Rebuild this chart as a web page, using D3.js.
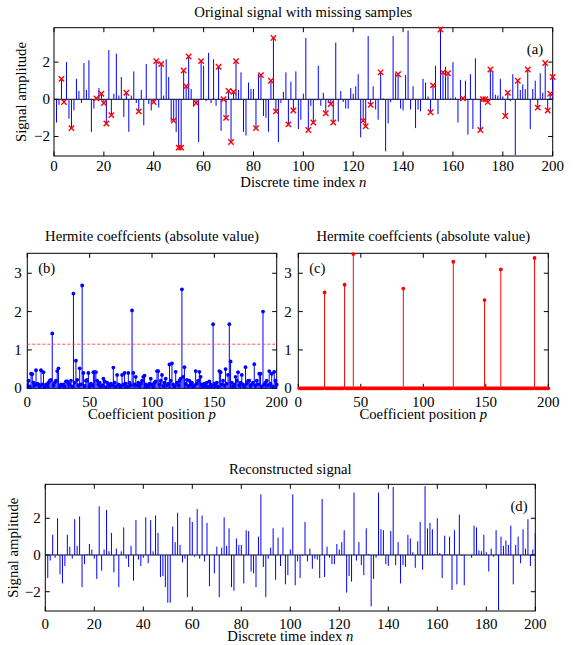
<!DOCTYPE html>
<html>
<head>
<meta charset="utf-8">
<script src="https://cdn.jsdelivr.net/npm/d3@7"></script>
<style>
  body { margin: 0; background: #fff; }
  text { font-family: "Liberation Serif", "Times New Roman", serif; fill: #000; }
</style>
</head>
<body>
<div id="main"></div>
<script>

// Signal samples, n = 1..200
const signal = [
  -1.25, -0.3, 1.1, -0.15, 2.0, -1.05, -1.55, -0.6, 1.1, 0.45,
  -0.2, 1.95, 0.5, 2.1, -1.75, -0.5, 0.05, 0.6, 0.3, -0.2,
  -1.3, 2.65, -0.85, 0.3, 2.45, 0.2, 1.2, -0.95, 0.35, -1.75,
  0.2, 1.5, -0.2, -0.65, 0.5, -1.4, 1.9, -0.25, -0.6, -0.15,
  2.05, -0.45, 1.9, 0.2, 2.15, 1.2, -1.2, -1.15, -1.75, -2.6,
  -2.6, 1.55, 0.7, 2.3, 0.55, -0.4, -0.2, -2.3, 2.05, 1.8,
  -0.1, 2.5, -0.2, 2.15, -0.35, 1.75, -1.7, 0.0, -1.0, 0.45,
  -2.3, 0.4, 2.05, 0.5, 1.45, -1.75, -1.95, 0.9, 0.55, 0.55,
  -1.55, 1.35, 1.3, -0.9, -1.0, -1.75, 1.0, 3.3, -0.65, -2.3,
  -0.2, 0.4, 1.45, -1.35, 0.95, -0.6, 1.5, -1.6, -1.1, 0.3,
  3.3, -1.65, -0.35, -1.25, -0.05, 1.8, -0.35, 0.35, -0.75, -0.2,
  -0.25, -1.25, 3.05, -1.2, 0.45, -0.15, -0.5, -0.5, 0.6, 0.3,
  0.7, 1.35, -2.05, -1.15, -1.45, 3.4, -0.3, 0.7, -0.55, -1.1,
  1.45, 0.05, -2.8, -1.3, -0.15, 3.4, 1.4, 1.35, -0.5, -0.6,
  1.3, 3.7, -0.55, 0.7, -1.55, -0.55, -0.65, 1.1, 0.9, 0.15,
  -0.7, 0.75, 1.8, -0.8, 3.75, 1.45, 1.75, 1.4, 0.05, 2.0,
  0.1, -1.25, 1.05, 0.05, 1.0, -1.9, 1.35, -1.6, 2.2, -0.05,
  -1.65, 0.0, 0.0, -0.15, 1.6, 1.5, 0.25, 0.2, 1.1, 0.15,
  -0.9, 0.35, -0.1, 1.35, -3.0, 1.0, 0.5, 0.8, 0.55, 1.6,
  -1.6, 0.55, 1.0, -0.45, 1.4, 0.35, 1.95, -0.6, 0.3, 1.2
]

// Positions of the missing samples (marked with x)
const missing = [
  3, 4, 7, 17, 19, 20, 21, 23, 29, 34, 40, 41, 43, 48, 50, 51, 52, 53, 54,
  57, 59, 66, 68, 69, 70, 71, 72, 73, 81, 83, 87, 88, 89, 94, 96, 102, 104,
  109, 111, 112, 124, 125, 127, 131, 138, 151, 152, 155, 156, 158, 164,
  171, 172, 173, 174, 175, 181, 182, 186, 190, 194, 197, 198, 199, 200
]

// Reconstructed signal (same as original signal)
const reconstructed = signal.slice()

// Hermite coefficients of the incomplete signal (absolute value), p = 1..200
const coeffNoisy = [
  0.2, 0.05, 0.38, 0.37, 0.15, 0.08, 0.47, 0.12, 0.1, 0.04,
  0.47, 0.1, 0.42, 0.03, 0.1, 0.06, 0.15, 0.2, 0.22, 1.43,
  0.08, 0.15, 0.2, 0.45, 0.52, 0.05, 0.1, 0.07, 0.1, 0.04,
  0.18, 0.18, 0.12, 0.1, 0.2, 0.05, 2.47, 0.15, 0.72, 0.22,
  0.08, 0.52, 0.1, 2.68, 0.4, 0.06, 0.2, 0.22, 0.4, 0.05,
  0.12, 0.08, 0.42, 0.42, 0.42, 0.2, 0.1, 0.15, 0.05, 0.08,
  0.25, 0.18, 0.03, 0.15, 0.1, 0.06, 0.12, 0.08, 0.54, 0.15,
  0.05, 0.35, 0.1, 0.08, 0.05, 0.35, 0.1, 0.4, 0.12, 0.04,
  0.4, 0.15, 0.08, 2.03, 0.4, 0.1, 0.3, 0.08, 0.15, 0.05,
  0.12, 0.2, 0.3, 0.33, 0.1, 0.05, 0.08, 0.12, 0.25, 0.1,
  0.04, 0.15, 0.18, 0.45, 0.45, 0.1, 0.2, 0.35, 0.06, 0.15,
  0.25, 0.08, 0.12, 0.62, 0.2, 0.65, 0.1, 0.05, 0.43, 0.15,
  0.08, 0.2, 0.25, 2.58, 0.3, 0.55, 0.12, 0.22, 0.06, 0.2,
  0.1, 0.15, 0.05, 0.08, 0.45, 0.12, 0.2, 0.43, 0.3, 0.1,
  0.05, 0.12, 0.08, 0.15, 0.04, 0.18, 0.1, 0.06, 1.67, 0.12,
  0.08, 0.15, 0.05, 0.45, 0.42, 0.1, 0.2, 0.08, 0.5, 0.12,
  0.35, 1.67, 0.7, 0.15, 0.05, 0.1, 0.3, 0.2, 0.42, 0.08,
  0.15, 0.35, 0.1, 0.05, 0.55, 0.12, 0.2, 0.2, 0.06, 0.1,
  0.15, 0.63, 0.08, 0.2, 0.1, 0.38, 0.38, 0.05, 2.0, 0.1,
  0.15, 0.2, 0.08, 0.45, 0.12, 0.38, 0.05, 0.43, 0.2, 0.1
]
const threshold = 1.15

// Recovered sparse Hermite coefficients
const sparsePos = [21, 37, 44, 84, 124, 149, 162, 189]
const sparseVal = [2.5, 2.7, 3.5, 2.6, 3.3, 2.3, 3.1, 3.4]

// Tick values
const timeTicks = [0, 20, 40, 60, 80, 100, 120, 140, 160, 180, 200]
const ampTicks = [-2, 0, 2]
const coeffTicks = [0, 50, 100, 150, 200]
const coeffAmpTicks = [0, 1, 2, 3]

const width = 576, height = 645
const labelSize = '14.7px', tickSize = '15px'

let svg = d3.select('#main').append('svg')
    .attr('width', width)
    .attr('height', height)

// Build panel axes: frame, inward ticks on all four sides, tick labels
function makePanel(box, xDomain, yDomain, xTicks, yTicks) {
    let g = svg.append('g')
    let x = d3.scaleLinear().domain(xDomain).range([box.left, box.right])
    let y = d3.scaleLinear().domain(yDomain).range([box.bottom, box.top])
    let tickLen = 4.5

    // X ticks (bottom and top)
    g.append('g').selectAll('line.xb')
        .data(xTicks).join('line')
        .attr('x1', d => x(d)).attr('x2', d => x(d))
        .attr('y1', box.bottom).attr('y2', box.bottom - tickLen)
        .attr('stroke', '#000')
    g.append('g').selectAll('line.xt')
        .data(xTicks).join('line')
        .attr('x1', d => x(d)).attr('x2', d => x(d))
        .attr('y1', box.top).attr('y2', box.top + tickLen)
        .attr('stroke', '#000')

    // Y ticks (left and right)
    g.append('g').selectAll('line.yl')
        .data(yTicks).join('line')
        .attr('y1', d => y(d)).attr('y2', d => y(d))
        .attr('x1', box.left).attr('x2', box.left + tickLen)
        .attr('stroke', '#000')
    g.append('g').selectAll('line.yr')
        .data(yTicks).join('line')
        .attr('y1', d => y(d)).attr('y2', d => y(d))
        .attr('x1', box.right).attr('x2', box.right - tickLen)
        .attr('stroke', '#000')

    // Tick labels
    g.append('g').selectAll('text')
        .data(xTicks).join('text')
        .attr('x', d => x(d))
        .attr('y', box.bottom + box.xTickDy)
        .attr('text-anchor', 'middle')
        .style('font-size', tickSize)
        .text(d => d)
    g.append('g').selectAll('text')
        .data(yTicks).join('text')
        .attr('x', box.left - box.yTickDx)
        .attr('y', d => y(d))
        .attr('dy', '0.33em')
        .attr('text-anchor', 'end')
        .style('font-size', tickSize)
        .text(d => d < 0 ? '\u2212' + Math.abs(d) : d)

    // Frame
    g.append('rect')
        .attr('x', box.left).attr('y', box.top)
        .attr('width', box.right - box.left)
        .attr('height', box.bottom - box.top)
        .attr('fill', 'none')
        .attr('stroke', '#000')
        .attr('stroke-width', 1)

    // Marks sit on top of the frame
    let marks = g.append('g').attr('class', 'marks')

    return {g: g, marks: marks, x: x, y: y}
}

function addTitle(text, cx, yy) {
    svg.append('text')
        .attr('x', cx).attr('y', yy)
        .attr('text-anchor', 'middle')
        .style('font-size', labelSize)
        .text(text)
}

function addXLabel(label, italic, cx, yy) {
    let t = svg.append('text')
        .attr('x', cx).attr('y', yy)
        .attr('text-anchor', 'middle')
        .style('font-size', labelSize)
    t.append('tspan').text(label + ' ')
    t.append('tspan').style('font-style', 'italic').text(italic)
}

function addYLabel(label, xx, cy) {
    svg.append('text')
        .attr('transform', 'translate(' + xx + ',' + cy + ') rotate(-90)')
        .attr('text-anchor', 'middle')
        .style('font-size', labelSize)
        .text(label)
}

function addTag(label, xx, yy) {
    svg.append('text')
        .attr('x', xx).attr('y', yy)
        .attr('dy', '0.35em')
        .attr('text-anchor', 'middle')
        .style('font-size', labelSize)
        .text(label)
}

// Stems of a signal with zero baseline
function drawSignalStems(p, values) {
    p.marks.append('line')
        .attr('x1', p.x.range()[0]).attr('x2', p.x.range()[1])
        .attr('y1', p.y(0)).attr('y2', p.y(0))
        .attr('stroke', '#000')
    p.marks.selectAll('line.stem')
        .data(values).join('line')
        .attr('class', 'stem')
        .attr('x1', (d, i) => p.x(i + 1)).attr('x2', (d, i) => p.x(i + 1))
        .attr('y1', p.y(0)).attr('y2', d => p.y(d))
        .attr('stroke', '#0000ff')
        .attr('stroke-width', 1)
}

// Stems with dot markers (coefficients)
function drawDotStems(p, values, color) {
    p.marks.selectAll('line.stem')
        .data(values).join('line')
        .attr('class', 'stem')
        .attr('x1', (d, i) => p.x(i + 1)).attr('x2', (d, i) => p.x(i + 1))
        .attr('y1', p.y(0)).attr('y2', d => p.y(d))
        .attr('stroke', color)
        .attr('stroke-width', 1)
    p.marks.selectAll('circle')
        .data(values).join('circle')
        .attr('cx', (d, i) => p.x(i + 1))
        .attr('cy', d => p.y(d))
        .attr('r', 1.9)
        .attr('fill', color)
}

// ---- Panel (a): original signal with missing samples
let boxA = {left: 54, right: 552.7, top: 27.7, bottom: 156, xTickDy: 15, yTickDx: 4}
let pa = makePanel(boxA, [0, 200], [-3.05, 3.85], timeTicks, ampTicks)
drawSignalStems(pa, signal)

// Red x markers on the missing samples
let xs = 2.7
pa.marks.selectAll('path.miss')
    .data(missing).join('path')
    .attr('class', 'miss')
    .attr('d', n => {
        let cx = pa.x(n), cy = pa.y(signal[n - 1])
        return 'M' + (cx - xs) + ',' + (cy - xs) + 'L' + (cx + xs) + ',' + (cy + xs) +
               'M' + (cx - xs) + ',' + (cy + xs) + 'L' + (cx + xs) + ',' + (cy - xs)
    })
    .attr('stroke', '#ff0000')
    .attr('stroke-width', 1.4)
    .attr('fill', 'none')

addTitle('Original signal with missing samples', 303.3, 17)
addXLabel('Discrete time index', 'n', 303.3, 186.5)
addYLabel('Signal amplitude', 26, 92)
addTag('(a)', 535, 49.3)

// ---- Panel (b): Hermite coefficients of incomplete signal
let boxB = {left: 27.3, right: 276.7, top: 253.3, bottom: 388.3, xTickDy: 18.4, yTickDx: 5.6}
let pb = makePanel(boxB, [0, 200], [0, 3.52], coeffTicks, coeffAmpTicks)
drawDotStems(pb, coeffNoisy, '#0000ff')

// Threshold line
pb.marks.append('line')
    .attr('x1', boxB.left).attr('x2', boxB.right)
    .attr('y1', pb.y(threshold)).attr('y2', pb.y(threshold))
    .attr('stroke', '#ff5050')
    .attr('stroke-width', 1)
    .attr('stroke-dasharray', '3,2')

addTitle('Hermite coeffcients (absolute value)', 152, 241)
addXLabel('Coefficient position', 'p', 152, 418.5)
addTag('(b)', 46.7, 267.7)

// ---- Panel (c): recovered sparse coefficients
let coeffSparse = d3.range(1, 201).map(p => {
    let k = sparsePos.indexOf(p)
    return k === -1 ? 0 : sparseVal[k]
})
let boxC = {left: 298.3, right: 548.3, top: 253.3, bottom: 388.3, xTickDy: 18.4, yTickDx: 6.6}
let pc = makePanel(boxC, [0, 200], [0, 3.52], coeffTicks, coeffAmpTicks)
drawDotStems(pc, coeffSparse, '#ff0000')

addTitle('Hermite coeffcients (absolute value)', 423.3, 241)
addXLabel('Coefficient position', 'p', 423.3, 418.5)
addTag('(c)', 317.3, 267.7)

// ---- Panel (d): reconstructed signal
let boxD = {left: 45.3, right: 535.3, top: 484.3, bottom: 611, xTickDy: 18.3, yTickDx: 4.6}
let pd = makePanel(boxD, [0, 200], [-3.05, 3.85], timeTicks, ampTicks)
drawSignalStems(pd, reconstructed)

addTitle('Reconstructed signal', 290.3, 473.5)
addXLabel('Discrete time index', 'n', 290.3, 640.5)
addYLabel('Signal amplitude', 18, 547.7)
addTag('(d)', 519, 505.7)

</script>
</body>
</html>
